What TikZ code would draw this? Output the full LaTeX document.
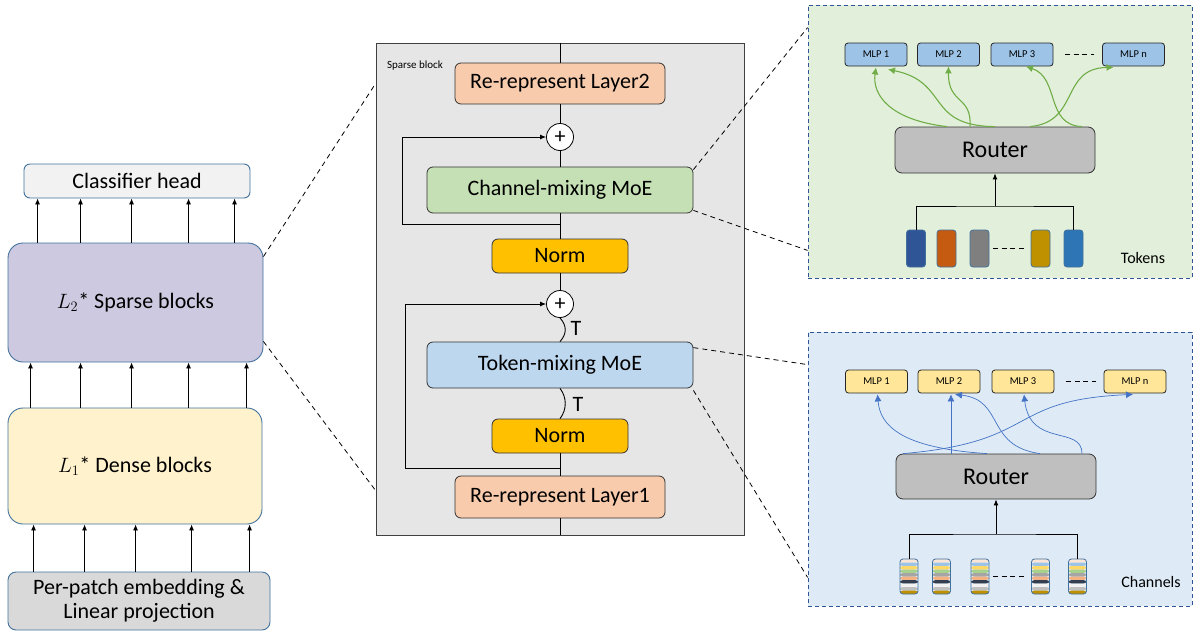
\documentclass[tikz,border=0pt]{standalone}
\usepackage{fontspec}
\setmainfont{Carlito}
\usetikzlibrary{arrows.meta,calc}

\definecolor{boxedge}{HTML}{41719C}
\definecolor{clsfill}{HTML}{F2F2F2}
\definecolor{sparsefill}{HTML}{CDC9E0}
\definecolor{densefill}{HTML}{FFF2CC}
\definecolor{patchfill}{HTML}{D9D9D9}
\definecolor{panelfill}{HTML}{E7E6E6}
\definecolor{repfill}{HTML}{F8CBAD}
\definecolor{chfill}{HTML}{C5E0B4}
\definecolor{normfill}{HTML}{FFC000}
\definecolor{tkfill}{HTML}{BDD7EE}
\definecolor{greenbg}{HTML}{E2EFDA}
\definecolor{bluebg}{HTML}{DEEBF7}
\definecolor{zoomedge}{HTML}{2F5597}
\definecolor{mlpblue}{HTML}{9DC3E6}
\definecolor{mlpyellow}{HTML}{FFE699}
\definecolor{routerfill}{HTML}{BFBFBF}
\definecolor{greenarr}{HTML}{70AD47}
\definecolor{bluearr}{HTML}{4472C4}
% token colours
\definecolor{tkA}{HTML}{2F5597}
\definecolor{tkB}{HTML}{C55A11}
\definecolor{tkC}{HTML}{7F7F7F}
\definecolor{tkD}{HTML}{BF9000}
\definecolor{tkE}{HTML}{2E75B6}
% channel stripes
\definecolor{chA}{HTML}{FBE5D6}
\definecolor{chB}{HTML}{9DC3E6}
\definecolor{chC}{HTML}{FFD966}
\definecolor{chD}{HTML}{A9D18E}
\definecolor{chE}{HTML}{A5A5A5}
\definecolor{chF}{HTML}{F4B183}
\definecolor{chG}{HTML}{333F50}
\definecolor{chH}{HTML}{F2F2F2}
\definecolor{chI}{HTML}{BFBFBF}
\definecolor{chJ}{HTML}{BF9000}

\tikzset{
  arr/.style={-{Latex[length=6pt,width=5pt]}},
  bigfont/.style={font=\fontsize{22}{26}\selectfont},
  stack/.style={draw=boxedge, line width=0.9pt, rounded corners=15pt, inner sep=0pt, bigfont, align=center},
  layer/.style={draw=black!80, line width=0.8pt, rounded corners=6pt, inner sep=0pt, bigfont},
  plus/.style={circle, draw, fill=white, line width=0.8pt, inner sep=0pt, minimum size=27pt, bigfont},
  zoombox/.style={draw=zoomedge, line width=0.8pt, dash pattern=on 4pt off 3pt, inner sep=0pt,
    minimum width=384pt},
  zoomline/.style={line width=0.8pt, dash pattern=on 5pt off 4pt},
  mlp/.style={draw=black!85, line width=0.8pt, rounded corners=3pt, inner sep=0pt,
    minimum width=62pt, minimum height=23pt, font=\fontsize{10.5}{12}\selectfont},
  router/.style={draw=black!80, fill=routerfill, line width=0.8pt, rounded corners=7pt, inner sep=0pt,
    minimum width=200pt, minimum height=46pt, font=\fontsize{24}{28}\selectfont},
  token/.style={draw=boxedge, line width=0.8pt, rounded corners=3pt, inner sep=0pt,
    minimum width=19pt, minimum height=37pt},
  chan/.style={draw=boxedge, line width=0.8pt, rounded corners=3pt, inner sep=0pt,
    minimum width=18pt, minimum height=35pt,
    path picture={
      \foreach \c [count=\i from 0] in {chA,chB,chC,chD,chE,chF,chG,chH,chI,chJ}
        \fill[\c] ($(path picture bounding box.north west)!{\i/10}!(path picture bounding box.south west)$)
          rectangle ($(path picture bounding box.north east)!{(\i+1)/10}!(path picture bounding box.south east)$);
    }},
  gap/.style={line width=0.8pt, dash pattern=on 5pt off 3.5pt},
  lbl/.style={inner sep=0pt, font=\fontsize{16}{18}\selectfont},
}

\begin{document}
\begin{tikzpicture}[x=1pt, y=-1pt]
\useasboundingbox (0,0) rectangle (1196,635);

% left stack
\node[stack, fill=clsfill, rounded corners=6pt, minimum width=226pt, minimum height=34pt] at (137,181) (cls) {Classifier head};
\node[stack, fill=sparsefill, minimum width=255pt, minimum height=119pt] at (135.5,302.5) (sparse) {$L_2$* Sparse blocks};
\node[stack, fill=densefill, minimum width=254pt, minimum height=116pt] at (135,466) (dense) {$L_1$* Dense blocks};
\node[stack, fill=patchfill, rounded corners=8pt, minimum width=262pt, minimum height=58pt] at (139,601) (patch) {Per-patch embedding \&\\[-2pt]Linear projection};

\foreach \dx in {30,73,124,181,227}
  \draw[arr, line width=0.8pt] ($(sparse.north west)+(\dx,0)$) coordinate (a) -- (a |- cls.south);
\foreach \dx in {23,73,124,181,239}
  \draw[arr, line width=0.8pt] ($(dense.north west)+(\dx,0)$) coordinate (a) -- (a |- sparse.south);
\foreach \dx in {26,77,128,184,242}
  \draw[arr, line width=0.8pt] ($(patch.north west)+(\dx,0)$) coordinate (a) -- (a |- dense.south);

% sparse block
\node[draw=black!75, fill=panelfill, line width=0.9pt, inner sep=0pt, minimum width=368pt, minimum height=492pt] at (560,289) (panel) {};
\node[inner sep=0pt, font=\fontsize{11}{12}\selectfont] at (415,66) (sblabel) {Sparse block};

\node[layer, fill=repfill, minimum width=210pt, minimum height=41pt] at (560,83.5) (rep2) {Re-represent Layer2};
\node[plus] at (560,137) (plus1) {+};
\node[layer, fill=chfill, minimum width=266pt, minimum height=46pt] at (560,190) (chmix) {Channel-mixing MoE};
\node[layer, fill=normfill, minimum width=136pt, minimum height=34pt] at (560,256) (norm1) {Norm};
\node[plus] at (560,304) (plus2) {+};
\node[layer, fill=tkfill, minimum width=266pt, minimum height=46pt] at (560,365) (tokmix) {Token-mixing MoE};
\node[layer, fill=normfill, minimum width=136pt, minimum height=34pt] at (560,436) (norm2) {Norm};
\node[layer, fill=repfill, minimum width=210pt, minimum height=42pt] at (560,497) (rep1) {Re-represent Layer1};

\draw[line width=0.9pt] (panel.north) -- (rep2.north);
\draw[line width=0.9pt] (rep2.south) -- (plus1.north);
\draw[line width=0.9pt] (plus1.south) -- (chmix.north);
\draw[line width=0.9pt] (chmix.south) -- (norm1.north);
\draw[line width=0.9pt] (norm1.south) -- (plus2.north);
\draw[line width=0.9pt] (norm2.south) -- (rep1.north);
\draw[line width=0.9pt] (rep1.south) -- (panel.south);
\draw[line width=0.9pt] (plus2.south) .. controls +(7,8) and +(7,-8) .. (tokmix.north);
\draw[line width=0.9pt] (tokmix.south) .. controls +(7,9) and +(7,-9) .. (norm2.north);
\node[bigfont, inner sep=0pt] at (576,328) (t1) {T};
\node[bigfont, inner sep=0pt] at (578,404) (t2) {T};

% residual paths
\coordinate (j1) at (560,224);
\coordinate (l1) at (402,224);
\draw[arr, line width=0.9pt] (j1) -- (l1) |- (plus1.west);
\coordinate (j2) at (560,468);
\coordinate (l2) at (405,468);
\draw[arr, line width=0.9pt] (j2) -- (l2) |- (plus2.west);

% zoom panels
\node[zoombox, fill=greenbg, minimum height=273pt] at (1000,141.5) (green) {};
\node[zoombox, fill=bluebg, minimum height=274pt] at (1000,469) (blue) {};

\draw[zoomline] ([yshift=-14pt]sparse.north east) -- ([yshift=-41pt]panel.north west);
\draw[zoomline] ([yshift=21pt]sparse.south east) -- ([yshift=45pt]panel.south west);
\draw[zoomline] ([yshift=-3pt]chmix.north east) -- ([yshift=-23pt]green.north west);
\draw[zoomline] ([yshift=3pt]chmix.south east) -- ([yshift=28pt]green.south west);
\draw[zoomline] ([yshift=-6pt]tokmix.north east) -- ([yshift=-33pt]blue.north west);
\draw[zoomline] ([yshift=-2pt]tokmix.south east) -- ([yshift=29pt]blue.south west);

% channel-mixing experts
\node[mlp, fill=mlpblue] at (876,54.5) (g1) {MLP 1};
\node[mlp, fill=mlpblue] at (948.5,54.5) (g2) {MLP 2};
\node[mlp, fill=mlpblue] at (1022,54.5) (g3) {MLP 3};
\node[mlp, fill=mlpblue] at (1133.5,54.5) (gn) {MLP n};
\draw[gap, shorten <=12pt, shorten >=8pt] (g3.east) -- (gn.west);
\node[router] at (995,150) (router1) {Router};

\begin{scope}[greenarr, line width=1.1pt, -{Latex[length=7pt,width=7pt]}]
  \draw ([xshift=-48pt]router1.north) .. controls (890,120) and (872,95) .. ([yshift=-1pt]g1.south);
  \draw (router1.north) .. controls (925,126) and (950,82) .. ([xshift=12pt,yshift=-3pt]g1.south);
  \draw ([xshift=-25pt]router1.north) .. controls (972,95) and (948,105) .. (g2.south);
  \draw ([xshift=87pt]router1.north) .. controls (1045,125) and (1060,78) .. ([xshift=4pt]g3.south);
  \draw ([xshift=35pt]router1.north) .. controls (1080,122) and (1060,68) .. ([xshift=-20pt,yshift=-1pt]gn.south);
\end{scope}

\node[token, fill=tkA] at (916,248.5) (tok1) {};
\node[token, fill=tkB] at (946.5,248.5) (tok2) {};
\node[token, fill=tkC] at (979.5,248.5) (tok3) {};
\node[token, fill=tkD] at (1040.5,248.5) (tok4) {};
\node[token, fill=tkE] at (1073.5,248.5) (tok5) {};
\draw[gap, shorten <=4pt, shorten >=6pt] (tok3.east) -- (tok4.west);
\coordinate (tjoin) at (995,206);
\draw[line width=0.9pt] (tok1.north) |- (tjoin) -| (tok5.north);
\draw[arr, line width=0.9pt] (tjoin) -- (router1.south);
\node[lbl] at (1143,258) (toklbl) {Tokens};

% token-mixing experts
\node[mlp, fill=mlpyellow] at (876.5,381.5) (b1) {MLP 1};
\node[mlp, fill=mlpyellow] at (949,381.5) (b2) {MLP 2};
\node[mlp, fill=mlpyellow] at (1023,381.5) (b3) {MLP 3};
\node[mlp, fill=mlpyellow] at (1135,381.5) (bn) {MLP n};
\draw[gap, shorten <=12pt, shorten >=8pt] (b3.east) -- (bn.west);
\node[router, minimum height=45pt] at (996,476.5) (router2) {Router};

\begin{scope}[bluearr, line width=0.7pt, -{Latex[length=7pt,width=7pt]}]
  \draw ([xshift=-9pt]router2.north) .. controls (900,448) and (880,425) .. ([xshift=1pt,yshift=-1pt]b1.south);
  \draw ([xshift=-45pt]router2.north) -- ([xshift=2pt,yshift=-1pt]b2.south);
  \draw ([xshift=44pt]router2.north) .. controls (985,446) and (1005,400) .. ([xshift=6pt,yshift=-1pt]b2.south);
  \draw ([xshift=86pt]router2.north) .. controls (1082,425) and (1030,448) .. ([xshift=1pt,yshift=-1pt]b3.south);
  \draw ([xshift=-93pt]router2.north) .. controls (1040,442) and (1005,400) .. ([xshift=-2pt,yshift=-1pt]bn.south);
\end{scope}

\node[chan] at (909,576.5) (ch1) {};
\node[chan] at (941.5,576.5) (ch2) {};
\node[chan] at (980,576.5) (ch3) {};
\node[chan] at (1040.5,576.5) (ch4) {};
\node[chan] at (1077.5,576.5) (ch5) {};
\draw[gap, shorten <=4pt, shorten >=6pt] (ch3.east) -- (ch4.west);
\coordinate (cjoin) at (996,534);
\draw[line width=0.9pt] (ch1.north) |- (cjoin) -| (ch5.north);
\draw[arr, line width=0.9pt] (cjoin) -- (router2.south);
\node[lbl] at (1151,582) (chlbl) {Channels};

\end{tikzpicture}
\end{document}
